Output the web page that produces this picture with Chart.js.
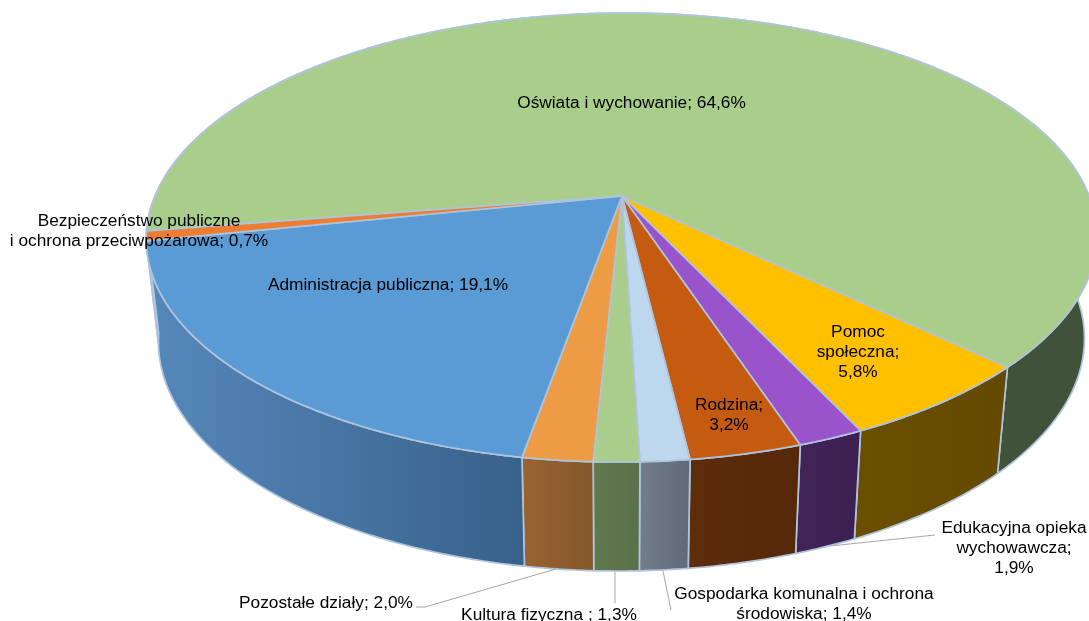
<!DOCTYPE html>
<html>
<head>
<meta charset="utf-8">
<script src="https://cdn.jsdelivr.net/npm/chart.js@4"></script>
<style>
  html, body { margin: 0; background: #fff; overflow: hidden; }
  canvas { display: block; }
</style>
</head>
<body>
<canvas id="pie3d" width="1089" height="621"></canvas>
<script>
const categories = ['Oświata i wychowanie', 'Pomoc\nspołeczna', 'Edukacyjna opieka\nwychowawcza', 'Rodzina',
    'Gospodarka komunalna i ochrona\nśrodowiska', 'Kultura fizyczna ', 'Pozostałe działy',
    'Administracja publiczna', 'Bezpieczeństwo publiczne\ni ochrona przeciwpożarowa'];
const values = [64.6, 5.8, 1.9, 3.2, 1.4, 1.3, 2.0, 19.1, 0.7];
const valueBreaks = [' ', '\n', '\n', '\n', ' ', ' ', ' ', ' ', ' '];

const topColors = ['#A9CE8B', '#FFC000', '#9954CC', '#C55A11', '#BDD7EE', '#A9CE8B', '#ED9C45', '#5B9BD5', '#ED7D31'];
const wallLeft = ['#41523A', '#6B4F00', '#42245A', '#5E2D0B', '#737D8C', '#61794F', '#9A6330', '#5688BB', '#8A4A1E'];
const wallRight = ['#41523A', '#634A00', '#3C2050', '#552809', '#5F6A78', '#5A7049', '#82582A', '#38618A', '#8A4A1E'];

// label centres, y is the middle of the first line
const labelAnchors = [[631.5, 103], [858, 332], [1014, 528], [729, 405], [804, 594], [549, 615], [326, 603], [388, 285], [139, 221]];
const leaders = [
    [[416, 607], [425, 607], [556, 569]],
    [[615, 572], [615, 603]],
    [[663, 571], [671, 610]],
    [[830, 546], [935, 535]]
];

// perspective mapping of the unit circle onto the top and the bottom rim
const HUB_X = 622, TOP_Y = 196, BOT_Y = 297.4, K = 0.185, SKEW = -3;
const TOP_A = 467, TOP_B = 216.8, BOT_A = 455, BOT_B = 223;
const rim = (ang, a, b, y0) => {
    const u = Math.cos(ang), v = Math.sin(ang), w = 1 - K * v;
    return [HUB_X + (a * u + SKEW * v) / w, y0 + b * v / w];
};
const topRim = ang => rim(ang, TOP_A, TOP_B, TOP_Y);
const botRim = ang => rim(ang, BOT_A, BOT_B, BOT_Y);

function sampleAngles(start, end) {
    const n = Math.max(2, Math.ceil((end - start) / 0.01));
    const out = [];
    for (let i = 0; i <= n; i++) out.push(start + (end - start) * i / n);
    return out;
}

const pie3d = {
    id: 'pie3d',
    beforeDatasetsDraw(chart) {
        const ctx = chart.ctx;
        const arcs = chart.getDatasetMeta(0).data;
        ctx.save();
        ctx.lineJoin = 'round';
        ctx.strokeStyle = '#AFC4DC';
        ctx.lineWidth = 1.7;

        // side walls first, the top covers whatever is behind it
        arcs.forEach((arc, i) => {
            const angles = sampleAngles(arc.startAngle, arc.endAngle);
            const upper = angles.map(topRim);
            const lower = angles.map(botRim).reverse();
            const xs = upper.concat(lower).map(p => p[0]);
            const grad = ctx.createLinearGradient(Math.min(...xs), 0, Math.max(...xs), 0);
            grad.addColorStop(0, wallLeft[i]);
            grad.addColorStop(1, wallRight[i]);
            ctx.beginPath();
            upper.concat(lower).forEach((p, j) => j ? ctx.lineTo(p[0], p[1]) : ctx.moveTo(p[0], p[1]));
            ctx.closePath();
            ctx.fillStyle = grad;
            ctx.fill();
            ctx.stroke();
        });

        arcs.forEach((arc, i) => {
            ctx.beginPath();
            ctx.moveTo(HUB_X, TOP_Y);
            sampleAngles(arc.startAngle, arc.endAngle).map(topRim).forEach(p => ctx.lineTo(p[0], p[1]));
            ctx.closePath();
            ctx.fillStyle = topColors[i];
            ctx.fill();
            ctx.stroke();
        });
        ctx.restore();
        return false;
    },
    // afterDatasetsDraw does not fire once beforeDatasetsDraw returned false
    afterDraw(chart) {
        const ctx = chart.ctx;
        ctx.save();
        ctx.strokeStyle = '#A6A6A6';
        ctx.lineWidth = 1;
        leaders.forEach(line => {
            ctx.beginPath();
            line.forEach((p, j) => j ? ctx.lineTo(p[0], p[1]) : ctx.moveTo(p[0], p[1]));
            ctx.stroke();
        });

        ctx.fillStyle = '#000';
        ctx.font = '17.3px "Liberation Sans"';
        ctx.textAlign = 'center';
        ctx.textBaseline = 'middle';
        categories.forEach((cat, i) => {
            const pct = values[i].toFixed(1).replace('.', ',') + '%';
            const lines = (cat + ';' + valueBreaks[i] + pct).split('\n');
            lines.forEach((line, j) => ctx.fillText(line, labelAnchors[i][0], labelAnchors[i][1] + j * 20));
        });
        ctx.restore();
    }
};

new Chart(document.getElementById('pie3d'), {
    type: 'pie',
    data: {
        labels: categories,
        datasets: [{ data: values, backgroundColor: topColors }]
    },
    options: {
        responsive: false,
        animation: false,
        rotation: 261,
        plugins: {
            legend: { display: false },
            tooltip: { enabled: false }
        }
    },
    plugins: [pie3d]
});
</script>
</body>
</html>
